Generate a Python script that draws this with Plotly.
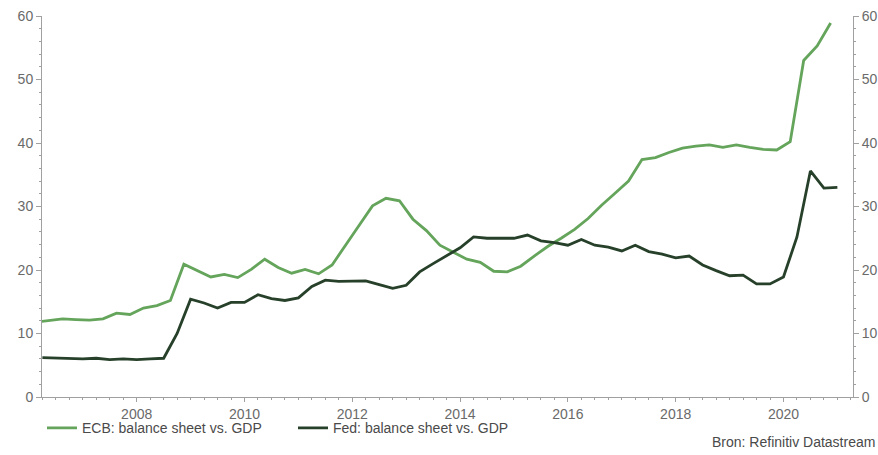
import plotly.graph_objects as go

# Quarterly observations (decimal-year positions on the chart's time axis)
ecb_start = 2006.125
fed_start = 2006.25
n_points = 60
ecb_x = [ecb_start + 0.25 * i for i in range(n_points)]
fed_x = [fed_start + 0.25 * i for i in range(n_points)]

ecb_values = [
    11.8, 12.1, 12.3, 12.2, 12.1, 12.3, 13.2, 13.0, 14.0, 14.4,
    15.2, 20.9, 19.9, 18.9, 19.3, 18.8, 20.1, 21.7, 20.4, 19.5,
    20.1, 19.4, 20.8, 23.8, 27.0, 30.1, 31.3, 30.9, 28.0, 26.2,
    23.9, 22.8, 21.7, 21.2, 19.8, 19.7, 20.6, 22.2, 23.7, 25.0,
    26.4, 28.1, 30.2, 32.1, 34.0, 37.4, 37.7, 38.5, 39.2, 39.5,
    39.7, 39.3, 39.7, 39.3, 39.0, 38.9, 40.2, 53.0, 55.3, 58.9,
]
fed_values = [
    6.2, 6.1, 6.0, 6.0, 6.1, 5.9, 6.0, 5.9, 6.0, 6.1,
    10.0, 15.4, 14.8, 14.0, 14.9, 14.9, 16.1, 15.5, 15.2, 15.6,
    17.4, 18.4, 18.2, 18.3, 18.3, 17.7, 17.1, 17.6, 19.7, 21.0,
    22.2, 23.5, 25.2, 25.0, 25.0, 25.0, 25.5, 24.6, 24.3, 23.9,
    24.8, 23.9, 23.6, 23.0, 23.9, 22.9, 22.5, 21.9, 22.2, 20.8,
    19.9, 19.1, 19.2, 17.8, 17.8, 18.9, 25.2, 35.6, 32.9, 33.0,
]

series_names = ["ECB: balance sheet vs. GDP", "Fed: balance sheet vs. GDP"]
year_ticks = [2008, 2010, 2012, 2014, 2016, 2018, 2020]
year_labels = ["2008", "2010", "2012", "2014", "2016", "2018", "2020"]
y_ticks = [0, 10, 20, 30, 40, 50, 60]
source_text = "Bron: Refinitiv Datastream"

ecb_color = "#64a45b"
fed_color = "#27402a"
axis_color = "#a0a0a0"
label_color = "#6a6a6a"
font_family = "Liberation Sans, Arial, sans-serif"

fig = go.Figure()
fig.add_trace(go.Scatter(x=ecb_x, y=ecb_values, mode="lines", name=series_names[0],
                         line=dict(color=ecb_color, width=2.8)))
fig.add_trace(go.Scatter(x=fed_x, y=fed_values, mode="lines", name=series_names[1],
                         line=dict(color=fed_color, width=2.8)))
# mirror scale on the right-hand axis (same data, not drawn)
fig.add_trace(go.Scatter(x=fed_x, y=fed_values, mode="lines", yaxis="y2",
                         line=dict(width=0, color="rgba(0,0,0,0)"),
                         showlegend=False, hoverinfo="skip"))

axis_common = dict(showgrid=False, zeroline=False, showline=True, linecolor=axis_color,
                   linewidth=1, ticks="outside", tickcolor=axis_color, automargin=False,
                   tickfont=dict(size=14, color=label_color))

fig.update_layout(
    width=878, height=455,
    margin=dict(l=42, r=25, t=16, b=58, autoexpand=False),
    paper_bgcolor="white", plot_bgcolor="white",
    font=dict(family=font_family, size=14, color=label_color),
    showlegend=True,
    legend=dict(orientation="h", x=0.0, xanchor="left", y=-0.04, yanchor="top",
                font=dict(size=14, color="#4a4a4a"), entrywidth=206,
                bgcolor="rgba(0,0,0,0)", itemwidth=30, tracegroupgap=0),
    xaxis=dict(range=[2006.243, 2021.29], tickvals=year_ticks, ticktext=year_labels,
               ticklen=4,
               minor=dict(dtick=0.25, tick0=2006, ticks="outside", ticklen=2,
                          tickcolor=axis_color, showgrid=False),
               **axis_common),
    yaxis=dict(range=[0, 60], tickvals=y_ticks, ticklen=5,
               minor=dict(dtick=2, ticks="outside", ticklen=2, tickcolor=axis_color,
                          showgrid=False),
               **axis_common),
    yaxis2=dict(range=[0, 60], tickvals=y_ticks, overlaying="y", side="right",
                anchor="x", ticklen=5,
                minor=dict(dtick=2, ticks="outside", ticklen=2, tickcolor=axis_color,
                           showgrid=False),
                **axis_common),
    annotations=[dict(text=source_text, xref="paper", yref="paper", x=1.03,
                      xanchor="right", y=-0.117, yanchor="middle", showarrow=False,
                      font=dict(size=14, color="#4a4a4a"))],
)

fig.write_html("out.html", config={"displayModeBar": False},
               post_script="document.body.style.margin='0';")
